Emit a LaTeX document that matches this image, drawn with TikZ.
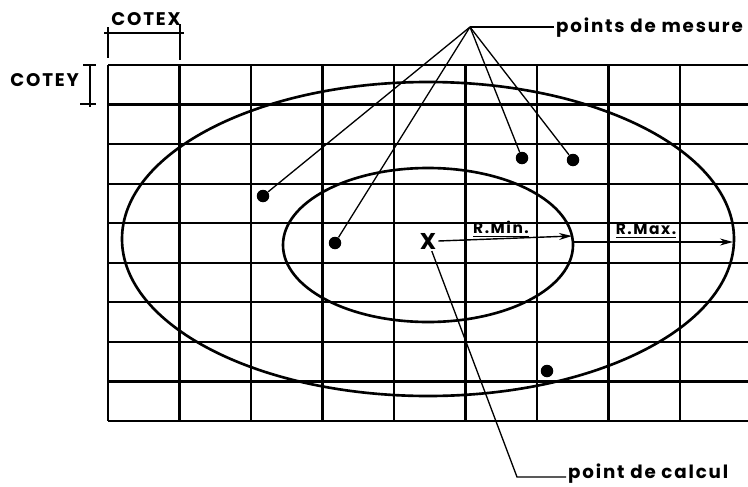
\documentclass[tikz,border=0pt]{standalone}
\usepackage{fontspec}
\setmainfont{Poppins}
\newfontfamily\lettering[LetterSpace=10]{Poppins}
\usetikzlibrary{arrows.meta,positioning,calc}
\tikzset{
  gridline/.style={line width=1.3pt, black},
  curve/.style={line width=1.5pt, black},
  leader/.style={line width=0.75pt, black},
  dimline/.style={line width=0.8pt, black},
  mesure/.style={circle, fill=black, inner sep=0pt, minimum size=0.25cm},
  lbl/.style={inner sep=1pt, font=\lettering\bfseries\fontsize{10.4}{12}\selectfont},
  rlbl/.style={inner sep=1pt, font=\lettering\bfseries\fontsize{8.8}{10}\selectfont},
  radial/.style={-{Stealth[length=2.6mm, width=1.4mm]}, line width=0.8pt}
}

\begin{document}
\begin{tikzpicture}[x=0.02cm, y=-0.02cm]
\useasboundingbox (0,0) rectangle (748,487);
\foreach \i in {0,...,8}
  \draw[gridline] (108+71.5*\i,65) -- (108+71.5*\i,421);
\foreach \j in {0,...,9}
  \draw[gridline] (108,65+39.55*\j) -- (748,65+39.55*\j);
\draw[curve] (428,239) ellipse [x radius=306, y radius=157];
\draw[curve] (428,245) ellipse [x radius=145, y radius=77];

\node[lbl, anchor=south] (cotex) at (146,28) {COTEX};
\coordinate (cxa) at (108,27);
\coordinate (cxb) at (180,24);
\draw[dimline] (cxa) -- (108,58);
\draw[dimline] (cxb) -- (180,60);
\draw[dimline] (104,33) -- (184,33);
\node[lbl, anchor=east] (cotey) at (81,80) {COTEY};
\coordinate (cya) at (90,65);
\coordinate (cyb) at (90,107);
\draw[dimline] (cya) -- (cyb);
\draw[dimline] (83,65) -- (96,65);
\draw[dimline] (80,104) -- (96,104);

\coordinate (apex) at (470,27);
\node[lbl, anchor=west] (mesures) at (554,28) {points de mesure};
\node[mesure] (m1) at (263,196) {};
\node[mesure] (m2) at (335,243) {};
\node[mesure] (m3) at (522,158) {};
\node[mesure] (m4) at (573,160) {};
\node[mesure] (m5) at (547,371) {};
\draw[leader] (apex) -- (apex -| mesures.west);
\foreach \m in {m1,m2,m3,m4}
  \draw[leader] (apex) -- (\m);

\node[inner sep=1pt, font=\bfseries\fontsize{13}{13}\selectfont] (calc) at (428,241) {X};
\coordinate (minend) at (572,236);
\coordinate (maxstart) at (574,242);
\coordinate (maxend) at (733,242);
\draw[radial] (calc.east) -- (minend);
\draw[radial] (maxstart) -- (maxend);
\node[rlbl] (rmin) at (501,229) {\underline{R.Min.}};
\node[rlbl] (rmax) at (646,231) {\underline{R.Max.}};

\node[lbl, anchor=west] (calcul) at (566,474) {point de calcul};
\coordinate (knee) at (517,477);
\draw[leader] (calc) -- (knee) -- (knee -| calcul.west);
\end{tikzpicture}
\end{document}
